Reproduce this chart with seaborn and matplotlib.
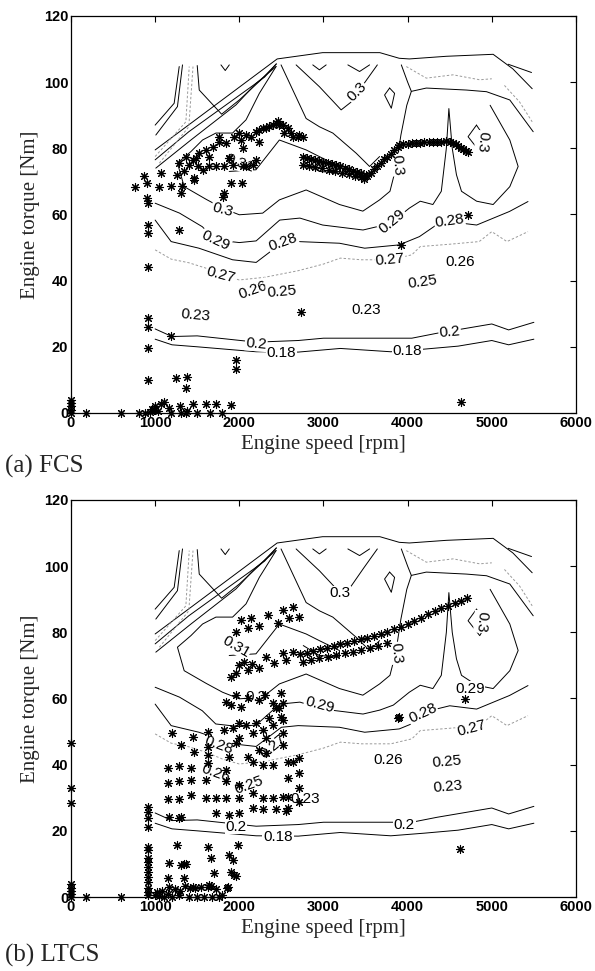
import matplotlib
matplotlib.use("Agg")
import matplotlib.pyplot as plt
import numpy as np
import pandas as pd
import seaborn as sns

# ---------------------------------------------------------------------------
# Iso-efficiency curves of the engine map (speed [rpm], torque [Nm])
# ---------------------------------------------------------------------------
ISO_018_RPM = [1000, 1200, 1500, 2200, 2700, 3200, 3800, 4200, 4600, 5000, 5200, 5500]
ISO_018_NM = [22.3, 20.6, 20.0, 18.5, 18.4, 19.5, 18.5, 19.3, 20.2, 21.9, 20.6, 22.3]

ISO_020_RPM = [1000, 1200, 1500, 2200, 2700, 3000, 4050, 4350, 5000, 5200, 5500]
ISO_020_NM = [25.4, 23.1, 23.3, 21.4, 21.9, 22.6, 22.6, 24.1, 26.9, 25.1, 27.4]

ISO_027_RPM = [1000, 1190, 1400, 1600, 1800, 2000, 2300, 2700, 3000, 3200, 3450, 3800,
               4050, 4150, 4500, 4850, 5000, 5180, 5430]
ISO_027_NM = [49.3, 46.5, 45.4, 43.8, 41.7, 40.2, 41.0, 43.0, 45.0, 46.8, 46.3, 46.3,
              47.8, 50.3, 51.0, 51.8, 54.8, 51.8, 54.8]

ISO_028_RPM = [1000, 1190, 1520, 1920, 2200, 2500, 2700, 3190, 3490, 3900, 4140, 4340,
               4500, 4820, 5210, 5430]
ISO_028_NM = [58.3, 51.8, 49.8, 46.3, 45.5, 51.3, 51.8, 51.3, 49.8, 50.8, 53.3, 56.8,
              57.8, 56.8, 60.9, 63.9]

ISO_029_RPM = [1000, 1290, 1560, 1720, 2000, 2200, 2480, 2720, 2990, 3470, 3670, 3830,
               4020, 4150, 4300, 4400, 4460, 4490, 4530, 4580, 4640, 4820, 5016, 5214,
               5313, 5214, 5056, 4980]
ISO_029_NM = [63.4, 60.4, 56.3, 52.3, 51.5, 52.0, 58.3, 58.9, 56.8, 55.3, 56.5, 58.0,
              61.9, 64.0, 63.0, 67.0, 80.0, 92.0, 80.0, 72.0, 67.0, 64.0, 63.0, 68.4,
              74.5, 82.5, 89.6, 93.0]

ISO_030_RPM = [2437, 2238, 2080, 1920, 1722, 1563, 1425, 1265, 1345, 1604, 1800, 2000,
               2278, 2476, 2794, 3190, 3468, 3667, 3790, 3860, 3920, 3990, 4044, 4222,
               4698, 4937, 5214, 5492]
ISO_030_NM = [104.7, 96.6, 88.6, 84.6, 84.6, 82.5, 79.0, 75.5, 68.4, 64.6, 61.9, 59.9,
              60.4, 64.4, 67.4, 63.0, 61.0, 64.4, 67.0, 74.0, 84.0, 93.0, 97.2, 98.2,
              97.6, 97.1, 94.6, 85.0]

ISO_030_DIP_RPM = [2675, 2952, 3210, 3330, 3480, 3640]
ISO_030_DIP_NM = [105.2, 98.6, 91.6, 94.0, 99.5, 105.2]

ISO_030_ISLE_RPM = [4818, 4718, 4857, 4937, 4818]
ISO_030_ISLE_NM = [87.0, 83.5, 79.0, 82.5, 87.0]

ISO_031_RPM = [1880, 2198, 2476, 2794, 2950, 3190, 3190, 2950, 2760]
ISO_031_NM = [73.0, 73.5, 82.5, 79.5, 77.5, 74.5, 72.5, 73.0, 76.0]

RIDGE_RPM = [2496, 2794, 2952, 3111, 3389, 3548, 3667]
RIDGE_NM = [105.2, 89.0, 86.5, 84.6, 78.5, 74.5, 77.5]

LIMIT_RPM = [1000, 2450, 2990, 3670, 3900, 4020, 4460, 5016, 5250, 5480]
LIMIT_NM = [79.5, 107.0, 108.9, 108.9, 107.2, 107.0, 107.8, 108.4, 104.0, 98.0]

LOWLEFT_A_RPM = [1000, 1226, 1286]
LOWLEFT_A_NM = [87.0, 93.6, 104.7]
LOWLEFT_B_RPM = [1008, 1265, 1325]
LOWLEFT_B_NM = [84.0, 92.6, 105.2]
DIAG_C_RPM = [1008, 1425, 1682, 1960, 2198, 2437]
DIAG_C_NM = [74.0, 82.5, 87.6, 93.1, 99.6, 104.7]
DIAG_D_RPM = [1000, 1400, 1700, 2000, 2300, 2440]
DIAG_D_NM = [76.5, 85.0, 90.5, 96.0, 101.5, 105.5]
NOTCH_RPM = [1500, 1524, 1790, 2000, 2250, 2440]
NOTCH_NM = [105.0, 97.6, 90.3, 94.6, 100.5, 105.5]
CHEV1_RPM = [1782, 1833, 1881]
CHEV1_NM = [105.2, 103.5, 105.2]
CHEV2_RPM = [2873, 2952, 3032]
CHEV2_NM = [105.2, 103.7, 105.2]
CHEV3_RPM = [3290, 3429, 3548]
CHEV3_NM = [105.2, 103.2, 105.2]
SMALL_ISLE_RPM = [3786, 3726, 3806, 3845, 3786]
SMALL_ISLE_NM = [98.2, 96.1, 92.1, 96.6, 98.2]
TOP_NOTCH_RPM = [3925, 4000, 4044]
TOP_NOTCH_NM = [105.2, 100.0, 97.2]
TOP_RIGHT_RPM = [5194, 5472]
TOP_RIGHT_NM = [105.4, 102.9]

# faint (light grey) iso-lines
FAINT_1_RPM = [1000, 1365, 1405]
FAINT_1_NM = [77.5, 88.0, 104.7]
FAINT_2_RPM = [1050, 1400, 1450]
FAINT_2_NM = [75.5, 86.5, 104.7]
FAINT_3_RPM = [3984, 4222, 4540, 4857, 5000]
FAINT_3_NM = [104.7, 101.2, 102.2, 100.7, 101.0]
FAINT_4_RPM = [5150, 5330, 5480]
FAINT_4_NM = [99.0, 94.0, 88.0]

# ---------------------------------------------------------------------------
# Operating points, FCS
# ---------------------------------------------------------------------------
FCS_RPM = [
    0, 0, 0, 0, 0, 175, 590, 810, 880, 940, 960, 990, 1000, 1030, 1070, 1100, 1170,
    1190, 1290, 1310, 1370, 1380, 1450, 1500, 1600, 1650, 1720, 1800, 1900,
    920, 920, 920, 920, 920, 920, 920, 920, 908, 908, 762, 869,
    1286, 1187, 1246, 1373, 1365, 1960, 1960, 3925, 4718, 2734, 4639,
    1048, 1068, 1187, 1265, 1325, 1306, 1345, 1405, 1464, 1484, 1524, 1603, 1643,
    1682, 1722, 1762, 1841, 1881, 1821, 1941, 2020, 2040, 2080, 2139, 2238, 2238,
    2318, 2397, 2456, 2516, 2575, 2615, 2694, 2754, 1901, 2032, 1801, 1821, 2159,
    2080, 2198, 1286, 1365, 1444, 1504, 1563, 1464, 1920, 1881, 2040, 1643, 1762,
    2000, 2198, 2278, 2357, 2437, 2476, 2536, 2635, 2714,
    2760, 2800, 2850, 2900, 2950, 3000, 3050, 3100, 3150, 3200, 3250, 3300, 3350,
    3400, 3450, 3500,
    2760, 2830, 2900, 2980, 3060, 3140, 3220, 3300, 3380, 3440, 3480,
    3520, 3560, 3600, 3640, 3680, 3720, 3760, 3800, 3840, 3880,
    3900, 3950, 4000, 4050, 4100, 4150, 4200, 4250, 4300, 4350, 4400, 4450, 4500, 4540,
    4570, 4600, 4630, 4660, 4690, 4720]
FCS_NM = [
    0.0, 1.0, 2.0, 3.0, 4.0, 0.0, 0.0, 0.0, 0.0, 0.3, 1.2, 0.8, 2.2, 0.5, 2.6, 3.4, 1.4,
    0.0, 2.2, 0.0, 0.0, 0.6, 2.8, 0.0, 2.8, 0.0, 2.8, 0.0, 2.4,
    63.4, 56.8, 54.3, 44.2, 28.6, 26.1, 19.5, 10.0, 69.4, 64.9, 68.4, 71.6,
    55.3, 23.3, 10.5, 11.0, 7.6, 16.0, 13.2, 50.8, 59.9, 30.6, 3.4,
    68.4, 72.5, 68.6, 71.9, 68.7, 66.4, 73.0, 75.0, 71.0, 77.0, 78.5, 79.5, 77.5,
    80.5, 74.5, 82.0, 81.5, 77.0, 74.5, 83.5, 82.5, 80.0, 84.0, 83.5, 82.0, 85.6,
    86.1, 87.1, 88.1, 87.1, 86.1, 84.6, 83.5, 83.5, 69.4, 69.4, 65.4, 66.5, 75.0,
    74.5, 76.5, 75.5, 77.5, 76.5, 74.5, 73.5, 70.4, 75.0, 77.0, 74.5, 74.5, 83.5,
    84.6, 85.0, 86.1, 86.6, 87.6, 87.0, 84.6, 83.5, 84.0,
    77.5, 77.2, 76.8, 76.5, 76.2, 75.8, 75.5, 75.2, 74.8, 74.5, 74.0, 73.6, 73.2,
    72.8, 72.4, 72.0,
    74.8, 74.5, 74.2, 73.9, 73.4, 73.1, 72.6, 72.2, 71.6, 71.2, 70.8,
    71.5, 72.5, 73.8, 74.5, 75.5, 76.8, 77.5, 78.2, 79.5, 80.3,
    81.0, 81.2, 81.4, 81.5, 81.6, 81.7, 81.8, 81.8, 81.9, 82.0, 82.0, 82.1, 81.9, 81.6,
    81.2, 80.7, 80.2, 79.7, 79.3, 78.8]

# ---------------------------------------------------------------------------
# Operating points, LTCS
# ---------------------------------------------------------------------------
LTCS_RPM = [
    0, 0, 0, 0, 0, 0, 0, 0, 175, 590,
    920, 920, 920, 920, 920, 920, 920, 920, 920, 920, 920, 920, 920, 920, 920,
    1000, 1020, 1050, 1080, 1100, 1150, 1160, 1200, 1230, 1280, 1300, 1350, 1400,
    1420, 1470, 1500, 1550, 1580, 1640, 1660, 1680, 1720, 1760, 1800, 1850,
    1265, 1167, 1310, 1340, 1365, 1345, 1147, 1623, 1663, 1702, 1623, 1881, 1920,
    1901, 1941, 1980, 1960, 1861, 1444,
    1167, 1286, 1306, 1722, 1881, 2000, 2159, 2278, 2437, 2556,
    1147, 1286, 1425, 1603, 1722, 1841, 2000, 2159, 2278, 2397, 2516,
    1147, 1286, 1425, 1603, 1841, 2000,
    1147, 1286, 1425, 1623, 1841, 1881, 2099, 2159, 2278, 2397, 2635, 2318, 2238,
    1206, 1306, 1444, 1464, 1623, 1623, 1623, 1821, 1920, 2000, 1960, 2080, 2198,
    2278, 2318, 2397, 2496, 2516, 2437, 2357, 2159, 2000,
    2516, 2516, 2516, 2575, 2575, 2575, 2575, 2714, 2714, 2714, 2714,
    2020, 2139, 2238, 2337, 2456, 2516, 2595, 2635, 2706, 1960, 2099,
    1960, 2060, 2099, 2238, 2318, 2417, 2516, 2556, 2635, 2000, 2150, 1900,
    1841, 1900, 2020, 2100, 2238, 2300, 2397, 2496, 2470, 1960,
    2720, 2800, 2880, 2960, 3040, 3120, 3200, 3280, 3360, 3440, 3520, 3600, 3680,
    3760, 3840, 3920, 4000, 4080, 4160, 4240, 4320, 4400, 4480, 4560, 4640, 4700,
    2760, 2850, 2950, 3050, 3150, 3250, 3350, 3450, 3550, 3650, 3750,
    3885, 3900, 4679, 4619]
LTCS_NM = [
    0.0, 0.8, 1.8, 2.8, 4.0, 28.3, 32.9, 46.4, 0.0, 0.0,
    27.3, 25.8, 23.8, 21.3, 15.2, 14.2, 11.7, 10.7, 9.1, 7.6, 6.1, 4.6, 2.6, 1.6, 0.6,
    0.6, 1.5, 0.3, 1.8, 0.0, 1.0, 3.0, 0.0, 2.5, 0.5, 1.8, 3.3, 0.0,
    2.7, 2.7, 0.0, 3.0, 0.0, 3.5, 3.3, 0.0, 2.5, 0.0, 0.5, 2.8,
    15.7, 10.2, 9.8, 10.0, 10.0, 5.6, 5.7, 15.2, 11.7, 7.2, 3.1, 12.7, 11.2,
    7.6, 6.7, 15.7, 6.4, 3.1, 3.1,
    24.3, 23.8, 24.1, 25.3, 24.8, 25.3, 27.0, 26.5, 26.5, 26.0,
    29.6, 29.6, 30.8, 29.8, 29.8, 29.8, 29.8, 31.4, 29.8, 29.8, 30.3,
    34.4, 35.0, 35.5, 35.5, 35.0, 34.0,
    38.9, 39.5, 38.9, 40.4, 38.4, 42.4, 42.4, 40.9, 39.9, 39.9, 40.9, 43.4, 44.5,
    49.5, 45.9, 48.5, 43.9, 50.0, 45.4, 43.0, 50.5, 51.0, 48.0, 46.5, 52.0, 52.5,
    50.5, 48.0, 52.0, 54.5, 58.6, 57.0, 54.0, 49.5, 52.5,
    53.5, 49.5, 45.9, 40.9, 35.9, 30.3, 26.8, 41.9, 37.4, 32.9, 28.8,
    83.7, 84.2, 81.9, 85.2, 82.9, 86.8, 84.2, 87.6, 84.7, 80.2, 81.2,
    67.6, 71.1, 68.6, 69.1, 72.6, 70.6, 73.7, 71.6, 74.2, 70.0, 70.5, 66.5,
    59.0, 58.0, 57.5, 60.0, 59.6, 61.0, 58.6, 61.6, 57.0, 61.0,
    73.3, 73.8, 74.4, 74.9, 75.4, 75.9, 76.4, 76.9, 77.4, 77.9, 78.4, 78.9, 79.5,
    80.2, 80.9, 81.7, 82.6, 83.5, 84.4, 85.4, 86.4, 87.2, 88.0, 88.8, 89.6, 90.3,
    71.1, 71.5, 72.1, 72.6, 73.1, 73.6, 74.1, 74.6, 75.3, 75.9, 76.8,
    54.0, 54.3, 59.8, 14.4]

# inline contour labels: (text, rpm, Nm, angle)
FCS_LABELS = [
    ("0.31", 2000, 75.5, -20), ("0.3", 1800, 61.5, -15), ("0.3", 3400, 97.0, 45),
    ("0.3", 3880, 75.0, -85), ("0.3", 4890, 82.0, -95), ("0.29", 1720, 52.0, -25),
    ("0.28", 2520, 51.5, 20), ("0.29", 3820, 58.0, 40), ("0.28", 4500, 58.0, 8),
    ("0.27", 1780, 41.7, -15), ("0.27", 3790, 46.3, 5), ("0.26", 2160, 37.2, 20),
    ("0.25", 2500, 36.7, 5), ("0.26", 4620, 45.7, 0), ("0.25", 4180, 39.7, 8),
    ("0.23", 1480, 29.6, -5), ("0.23", 3510, 31.1, 0), ("0.2", 2200, 21.0, -5),
    ("0.18", 2500, 18.2, 0), ("0.2", 4500, 24.3, 5), ("0.18", 4000, 18.8, 0)]
LTCS_LABELS = [
    ("0.31", 1960, 75.7, -30), ("0.3", 2200, 60.5, 0), ("0.3", 3190, 91.8, 0),
    ("0.3", 3870, 73.7, -85), ("0.3", 4880, 83.2, -95), ("0.29", 4740, 63.0, 0),
    ("0.29", 2950, 58.0, -15), ("0.28", 4180, 55.5, 25), ("0.27", 4760, 51.0, 15),
    ("0.26", 3770, 41.4, 0), ("0.25", 4460, 40.9, 5), ("0.23", 4480, 33.3, 5),
    ("0.23", 2780, 29.5, 0), ("0.2", 3960, 21.8, 0), ("0.18", 2460, 18.2, 0),
    ("0.2", 1960, 21.3, 0), ("0.28", 1760, 45.9, -20), ("0.27", 2400, 45.4, 40),
    ("0.26", 1720, 37.4, -20), ("0.25", 2120, 33.9, 20)]

X_TICKS = [0, 1000, 2000, 3000, 4000, 5000, 6000]
Y_TICKS = [0, 20, 40, 60, 80, 100, 120]


def curve_frame(curves):
    parts = []
    for name, rpm, nm in curves:
        parts.append(pd.DataFrame({"rpm": rpm, "nm": nm, "curve": name,
                                   "order": np.arange(len(rpm))}))
    return pd.concat(parts, ignore_index=True)


solid = curve_frame([
    ("c018", ISO_018_RPM, ISO_018_NM), ("c020", ISO_020_RPM, ISO_020_NM),
    ("c028", ISO_028_RPM, ISO_028_NM), ("c029", ISO_029_RPM, ISO_029_NM),
    ("c030", ISO_030_RPM, ISO_030_NM), ("c030dip", ISO_030_DIP_RPM, ISO_030_DIP_NM),
    ("c030isle", ISO_030_ISLE_RPM, ISO_030_ISLE_NM), ("c031", ISO_031_RPM, ISO_031_NM),
    ("ridge", RIDGE_RPM, RIDGE_NM), ("limit", LIMIT_RPM, LIMIT_NM),
    ("lla", LOWLEFT_A_RPM, LOWLEFT_A_NM), ("llb", LOWLEFT_B_RPM, LOWLEFT_B_NM),
    ("dc", DIAG_C_RPM, DIAG_C_NM), ("dd", DIAG_D_RPM, DIAG_D_NM),
    ("notch", NOTCH_RPM, NOTCH_NM), ("ch1", CHEV1_RPM, CHEV1_NM),
    ("ch2", CHEV2_RPM, CHEV2_NM), ("ch3", CHEV3_RPM, CHEV3_NM),
    ("si", SMALL_ISLE_RPM, SMALL_ISLE_NM), ("tn", TOP_NOTCH_RPM, TOP_NOTCH_NM),
    ("tr", TOP_RIGHT_RPM, TOP_RIGHT_NM)])
faint = curve_frame([
    ("c027", ISO_027_RPM, ISO_027_NM), ("f1", FAINT_1_RPM, FAINT_1_NM),
    ("f2", FAINT_2_RPM, FAINT_2_NM), ("f3", FAINT_3_RPM, FAINT_3_NM),
    ("f4", FAINT_4_RPM, FAINT_4_NM)])

sns.set_theme(style="white")
plt.rcParams["font.family"] = ["Liberation Sans", "DejaVu Sans"]

fig = plt.figure(figsize=(5.95, 9.71), dpi=100)
ax_top = fig.add_axes([0.1193, 0.5747, 0.8487, 0.4089])
ax_bot = fig.add_axes([0.1193, 0.0762, 0.8487, 0.4089])

STAR = (8, 2, 0)


def draw_panel(ax, rpm, nm, labels):
    sns.lineplot(data=solid, x="rpm", y="nm", units="curve", estimator=None,
                 sort=False, color="black", linewidth=0.7, ax=ax, zorder=1)
    sns.lineplot(data=faint, x="rpm", y="nm", units="curve", estimator=None,
                 sort=False, color="#9a9a9a", linewidth=0.7, dashes=False, ax=ax,
                 zorder=1)
    for line in ax.lines[-len(faint["curve"].unique()):]:
        line.set_linestyle((0, (2.5, 2)))
    for text, x, y, ang in labels:
        ax.text(x, y, text, fontsize=11, rotation=ang, ha="center", va="center",
                rotation_mode="anchor", zorder=2, color="black",
                bbox=dict(boxstyle="square,pad=0.05", fc="white", ec="none"))
    pts = pd.DataFrame({"rpm": rpm, "nm": nm})
    sns.scatterplot(data=pts, x="rpm", y="nm", marker=STAR, s=34, color="black",
                    linewidth=0.8, ax=ax, zorder=3, legend=False, clip_on=False)
    ax.set_xlim(0, 6000)
    ax.set_ylim(0, 120)
    ax.set_xticks(X_TICKS)
    ax.set_yticks(Y_TICKS)
    ax.tick_params(direction="in", top=True, right=True, length=4, width=0.8,
                   labelsize=10.5, pad=2, colors="black")
    for lab in ax.get_xticklabels() + ax.get_yticklabels():
        lab.set_fontweight("bold")
    for sp in ax.spines.values():
        sp.set_color("black")
        sp.set_linewidth(0.9)
    ax.set_xlabel("Engine speed [rpm]", family="Liberation Serif", fontsize=15,
                  labelpad=4)
    ax.set_ylabel("Engine torque [Nm]", family="Liberation Serif", fontsize=15,
                  labelpad=3)


draw_panel(ax_top, FCS_RPM, FCS_NM, FCS_LABELS)
draw_panel(ax_bot, LTCS_RPM, LTCS_NM, LTCS_LABELS)

fig.text(5 / 595, 1 - 466 / 971, "(a) FCS", family="Liberation Serif", fontsize=18,
         va="center", ha="left")
fig.text(5 / 595, 1 - 955 / 971, "(b) LTCS", family="Liberation Serif", fontsize=18,
         va="center", ha="left")

fig.savefig("out.png", dpi=100, facecolor="white")
